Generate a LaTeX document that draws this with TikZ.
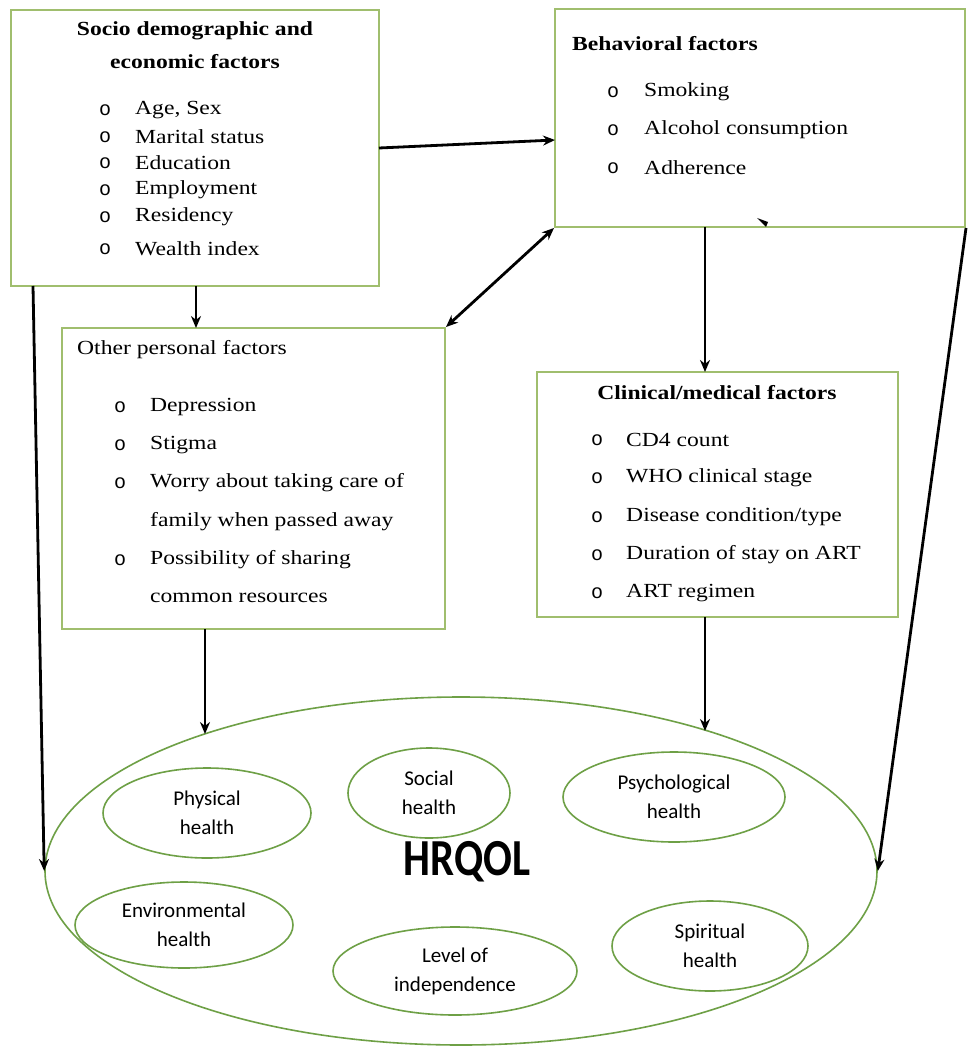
\documentclass[tikz,border=0pt]{standalone}
\usepackage{fontspec}
\setmainfont{Liberation Serif}[FakeStretch=1.18]
\newfontfamily\bulfont{Liberation Mono}
\newfontfamily\calfont{Carlito}
\newfontfamily\hrfont{Carlito}[FakeStretch=0.82]
\usetikzlibrary{shapes.geometric,arrows.meta}
\definecolor{boxgreen}{RGB}{160,190,110}
\definecolor{ellgreen}{RGB}{110,160,70}
\tikzset{
 box/.style={draw=boxgreen,line width=2pt,inner sep=0pt,rectangle},
 item/.style={anchor=west,inner sep=0pt,font=\fontsize{20}{24}\selectfont},
 bul/.style={anchor=west,inner sep=0pt,font=\bulfont\fontsize{20}{24}\selectfont},
 ttl/.style={inner sep=0pt,font=\fontsize{20}{24}\selectfont\bfseries},
 ell/.style={ellipse,draw=ellgreen,line width=1.6pt,inner sep=0pt,align=center,font=\calfont\fontsize{21}{29}\selectfont},
 arr/.style={line width=2.8pt,-{Stealth[length=12pt,width=10pt]}},
 darr/.style={line width=2.8pt,{Stealth[length=12pt,width=10pt]}-{Stealth[length=12pt,width=10pt]}},
}
\begin{document}
\begin{tikzpicture}[x=1pt,y=-1pt]
\fill[white] (0,0) rectangle (968,1048);
\useasboundingbox (0,0) rectangle (968,1048);

% boxes
\node[box,minimum width=368pt,minimum height=276pt] (socio) at (195,148) {};
\node[box,minimum width=410pt,minimum height=218pt] (behav) at (760,118) {};
\node[box,minimum width=383pt,minimum height=301pt] (other) at (253.5,478.5) {};
\node[box,minimum width=361pt,minimum height=245pt] (clin) at (717.5,494.5) {};

% socio text
\node[ttl] (t1a) at (195,31) {Socio demographic and};
\node[ttl] (t1b) at (195,62) {economic factors};
\foreach \y/\t [count=\i] in {110/{Age, Sex},137/{Marital status},163/{Education},190/{Employment},217/{Residency},249/{Wealth index}}{
  \node[bul] (sb\i) at (99,\y) {o};
  \node[item] (si\i) at (135,\y) {\t};
}

% behavioral text
\node[ttl,anchor=west] (t2) at (572,44) {Behavioral factors};
\foreach \y/\t [count=\i] in {92/{Smoking},130/{Alcohol consumption},168/{Adherence}}{
  \node[bul] (bb\i) at (607,\y) {o};
  \node[item] (bi\i) at (644,\y) {\t};
}

% other personal text
\node[item] (t3) at (77,350) {Other personal factors};
\foreach \y/\t [count=\i] in {407/{Depression},445/{Stigma},483/{Worry about taking care of},560/{Possibility of sharing}}{
  \node[bul] (ob\i) at (114,\y) {o};
  \node[item] (oi\i) at (150,\y) {\t};
}
\node[item] (oc1) at (150,522) {family when passed away};
\node[item] (oc2) at (150,598) {common resources};

% clinical text
\node[ttl] (t4) at (717,393) {Clinical/medical factors};
\foreach \y/\t [count=\i] in {440/{CD4 count},478/{WHO clinical stage},517/{Disease condition/type},555/{Duration of stay on ART},593/{ART regimen}}{
  \node[bul] (cb\i) at (591,\y) {o};
  \node[item] (ci\i) at (626,\y) {\t};
}

% HRQOL ellipse
\node[ellipse,draw=ellgreen,line width=1.6pt,minimum width=832pt,minimum height=348pt,inner sep=0pt] (big) at (461,871) {};
\node[inner sep=0pt,font=\hrfont\bfseries\fontsize{52}{52}\selectfont] (hr) at (467,862) {HRQOL};
\node[ell,minimum width=208pt,minimum height=90pt] (phys) at (207,813) {Physical\\health};
\node[ell,minimum width=162pt,minimum height=90pt] (soc) at (429,793) {Social\\health};
\node[ell,minimum width=222pt,minimum height=90pt] (psy) at (674,797) {Psychological\\health};
\node[ell,minimum width=218pt,minimum height=86pt] (env) at (184,925) {Environmental\\health};
\node[ell,minimum width=244pt,minimum height=88pt] (lev) at (455,971) {Level of\\independence};
\node[ell,minimum width=196pt,minimum height=90pt] (spi) at (710,946) {Spiritual\\health};

% connector ends
\coordinate (o1) at (196,286);
\coordinate (o2) at (196,328);
\coordinate (l1) at (33,286);
\coordinate (p1) at (205,629);
\coordinate (p2) at (205,734);
\coordinate (q1) at (705,617);
\coordinate (q2) at (705,731);
\coordinate (b1) at (705,227);
\coordinate (b2) at (705,372);
\coordinate (s1) at (379,148);
\coordinate (s2) at (555,140);

\draw[arr] (s1) -- (s2);
\draw[arr] (o1) -- (o2);
\draw[darr] (other.north east) -- (behav.south west);
\draw[arr] (b1) -- (b2);
\draw[arr] (l1) -- (big.west);
\draw[arr] (behav.south east) -- (big.east);
\draw[arr] (p1) -- (p2);
\draw[arr] (q1) -- (q2);

% stray arrowhead on behavioral box
\fill (757,218) -- (768,222) -- (766,227) -- cycle;
\end{tikzpicture}
\end{document}
